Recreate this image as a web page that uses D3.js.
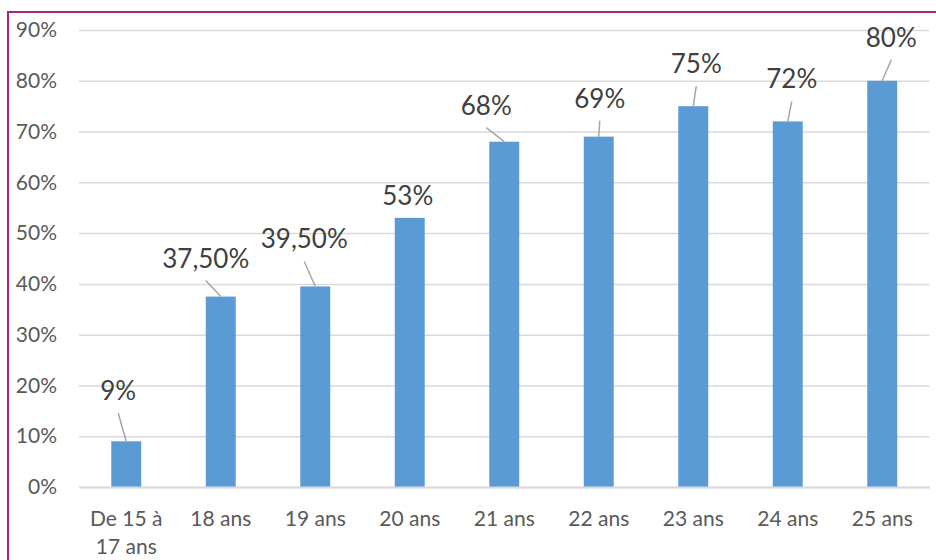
<!DOCTYPE html>
<html>
<head>
<meta charset="utf-8">
<script src="https://cdn.jsdelivr.net/npm/d3@7"></script>
<style>
  html, body { margin: 0; padding: 0; background: #fff; }
  svg { display: block; }
  text { font-family: Lato, "Open Sans", sans-serif; }
</style>
</head>
<body>
<svg id="chart" width="936" height="560"></svg>
<script>
// Share by age group
const categories = ["De 15 à 17 ans", "18 ans", "19 ans", "20 ans", "21 ans", "22 ans", "23 ans", "24 ans", "25 ans"];
const values = [0.09, 0.375, 0.395, 0.53, 0.68, 0.69, 0.75, 0.72, 0.80];
const valueLabels = ["9%", "37,50%", "39,50%", "53%", "68%", "69%", "75%", "72%", "80%"];
const yTicks = [0, 0.1, 0.2, 0.3, 0.4, 0.5, 0.6, 0.7, 0.8, 0.9];

// Data-label placement relative to the top centre of each bar (label centre x, baseline y)
const labelOffsets = [
  [-8, -41], [-15, -29], [-11, -38], [-2, -13], [-18, -27],
  [1, -29], [3, -33], [4, -33], [9, -34]
];

const svg = d3.select("#chart");
const W = 936, H = 560;
const plot = { left: 79, right: 929.5, top: 30, bottom: 487 };

svg.append("rect").attr("width", W).attr("height", H).attr("fill", "#fff");

// frame
svg.append("path")
  .attr("d", `M8,${H} L8,12 L${W},12`)
  .attr("fill", "none")
  .attr("stroke", "#a8228e")
  .attr("stroke-width", 2);

const x = d3.scaleBand()
  .domain(categories)
  .range([plot.left, plot.right])
  .paddingInner(0.683)
  .paddingOuter(0.3415);

const y = d3.scaleLinear()
  .domain([0, 0.9])
  .range([plot.bottom, plot.top]);

// gridlines + y labels
const yAxis = d3.axisLeft(y)
  .tickValues(yTicks)
  .tickFormat(d3.format(".0%"))
  .tickSize(-(plot.right - plot.left))
  .tickPadding(22);

const gy = svg.append("g")
  .attr("transform", `translate(${plot.left},0)`)
  .call(yAxis);
gy.select(".domain").remove();
gy.selectAll(".tick line")
  .attr("stroke", "#d9d9d9")
  .attr("stroke-width", 1.5);
gy.selectAll(".tick text")
  .attr("fill", "#595959")
  .style("font-size", "21px")
  .attr("font-family", "Lato, 'Open Sans', sans-serif");

// bars
svg.append("g").selectAll("rect")
  .data(values)
  .join("rect")
  .attr("x", (d, i) => x(categories[i]))
  .attr("y", d => y(d))
  .attr("width", x.bandwidth())
  .attr("height", d => y(0) - y(d))
  .attr("fill", "#5b9bd5");

// x axis
const xAxis = d3.axisBottom(x).tickSize(0).tickPadding(0);
const gx = svg.append("g")
  .attr("transform", `translate(0,${plot.bottom})`)
  .call(xAxis);
gx.select(".domain")
  .attr("stroke", "#d9d9d9")
  .attr("stroke-width", 2);

function wrap(sel, maxWidth) {
  sel.each(function () {
    const t = d3.select(this);
    const words = t.text().split(/\s+/);
    t.text(null);
    let line = [];
    let lineNo = 0;
    let tspan = t.append("tspan").attr("x", 0).attr("y", 39);
    for (const w of words) {
      line.push(w);
      tspan.text(line.join(" "));
      if (tspan.node().getComputedTextLength() > maxWidth && line.length > 1) {
        line.pop();
        tspan.text(line.join(" "));
        line = [w];
        lineNo++;
        tspan = t.append("tspan").attr("x", 0).attr("y", 39 + lineNo * 28).text(w);
      }
    }
  });
}

gx.selectAll(".tick text")
  .attr("fill", "#595959")
  .attr("dy", null)
  .style("font-size", "21px")
  .attr("font-family", "Lato, 'Open Sans', sans-serif")
  .call(wrap, 84);

// data labels with leader lines
const lg = svg.append("g");
values.forEach((v, i) => {
  const cx = x(categories[i]) + x.bandwidth() / 2;
  const top = y(v);
  const lx = cx + labelOffsets[i][0];
  const ly = top + labelOffsets[i][1];
  const lineStartY = ly + 13;
  if (top - lineStartY > 4) {
    lg.append("line")
      .attr("x1", lx).attr("y1", lineStartY)
      .attr("x2", cx).attr("y2", top)
      .attr("stroke", "#a6a6a6")
      .attr("stroke-width", 1.5);
  }
  lg.append("text")
    .attr("x", lx)
    .attr("y", ly)
    .attr("text-anchor", "middle")
    .attr("fill", "#404040")
    .style("font-size", "26px")
    .text(valueLabels[i]);
});
</script>
</body>
</html>
